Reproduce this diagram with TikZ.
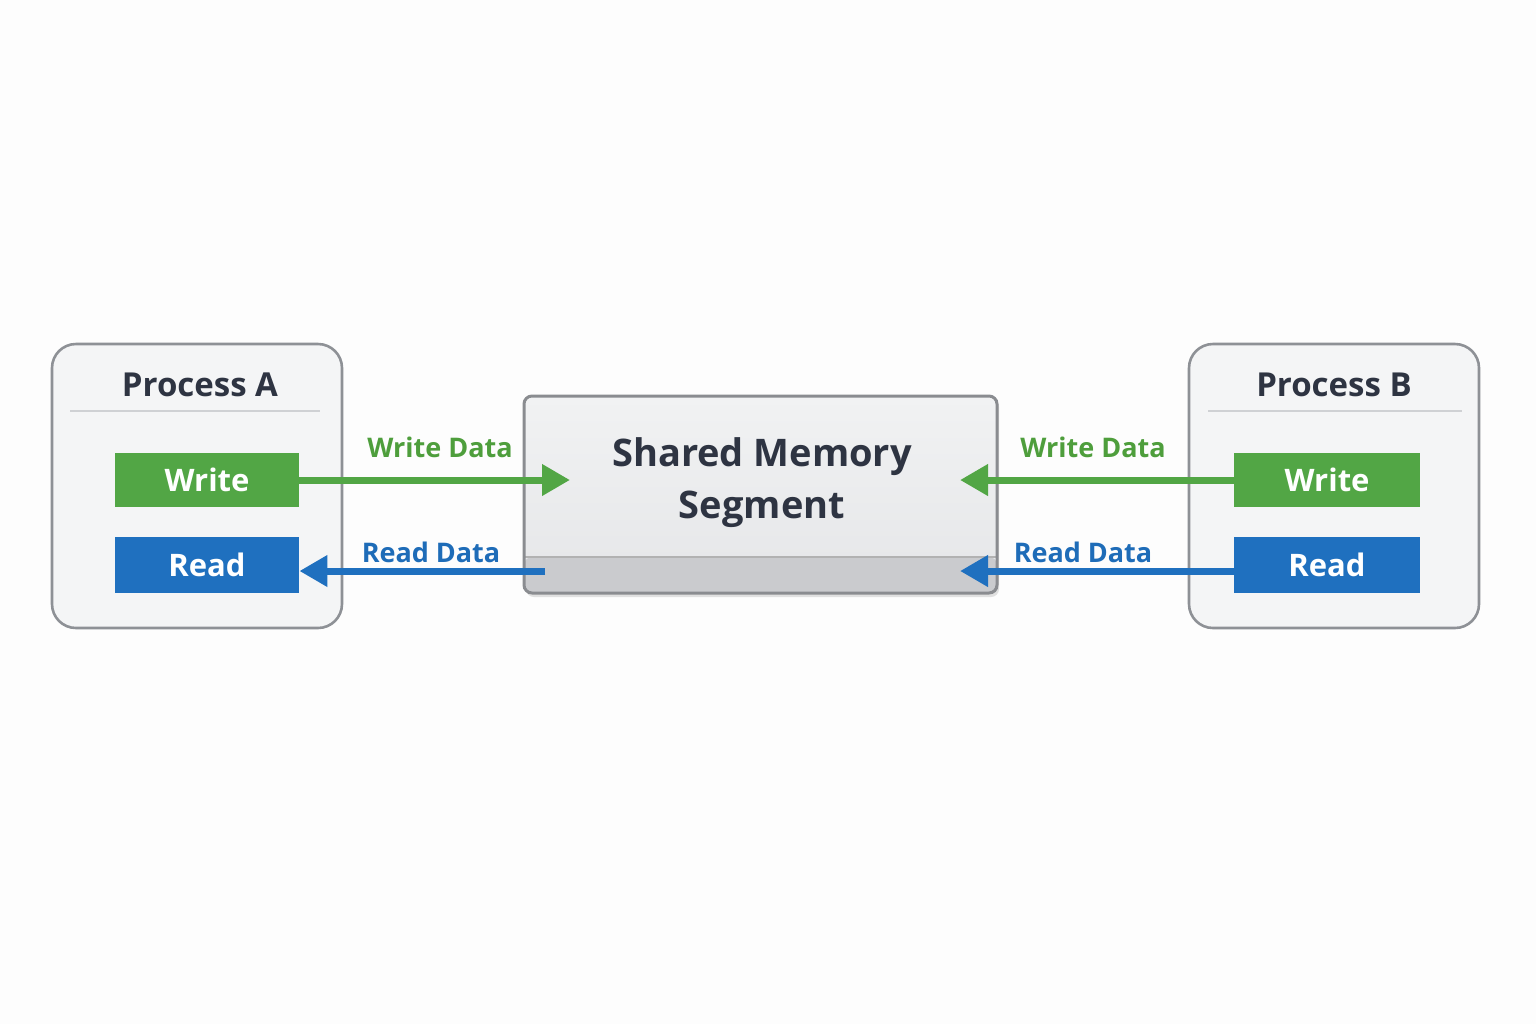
\documentclass[tikz,border=0pt]{standalone}
\usepackage{fontspec}
\setmainfont{Open Sans}
\usetikzlibrary{arrows.meta}
\definecolor{bgc}{HTML}{FDFDFD}
\definecolor{procfill}{HTML}{F4F5F6}
\definecolor{procline}{HTML}{8E9196}
\definecolor{sepline}{HTML}{CFD1D4}
\definecolor{textdark}{HTML}{2E3442}
\definecolor{gbox}{HTML}{52A645}
\definecolor{bbox}{HTML}{1F70BF}
\definecolor{glab}{HTML}{4E9E3C}
\definecolor{blab}{HTML}{1E6CB8}
\definecolor{smtop}{HTML}{F1F2F3}
\definecolor{smbot}{HTML}{E5E6E8}
\definecolor{strip}{HTML}{CACBCE}
\definecolor{smline}{HTML}{8A8C90}
\tikzset{
  procbox/.style={draw=procline, line width=1.3pt, fill=procfill, rounded corners=12pt, minimum width=145pt, minimum height=142pt, inner sep=0pt},
  opbox/.style={minimum width=92pt, inner sep=0pt, text=white, font=\fontsize{15.5}{18}\selectfont\bfseries},
  title/.style={text=textdark, font=\fontsize{16.5}{19}\selectfont\bfseries},
  lab/.style={font=\fontsize{13.5}{16}\selectfont\bfseries},
  garrow/.style={draw=gbox, line width=3.5pt, -{Triangle[length=14pt,width=15pt]}},
  barrow/.style={draw=bbox, line width=3.5pt, -{Triangle[length=14pt,width=15pt]}},
}
\begin{document}
\begin{tikzpicture}[x=0.5pt,y=-0.5pt]
\fill[bgc] (0,0) rectangle (1536,1024);
\useasboundingbox (0,0) rectangle (1536,1024);
% Process A
\node[procbox] (pa) at (197,486) {};
\node[title] (pat) at (200,385) {Process A};
\draw[sepline, line width=1pt] (70,411) -- (320,411);
\node[opbox, fill=gbox, minimum height=27pt] (wa) at (207,480) {Write};
\node[opbox, fill=bbox, minimum height=28pt] (ra) at (207,565) {Read};
% Process B
\node[procbox] (pb) at (1334,486) {};
\node[title] (pbt) at (1334,385) {Process B};
\draw[sepline, line width=1pt] (1208,411) -- (1462,411);
\node[opbox, fill=gbox, minimum height=27pt, minimum width=93pt] (wb) at (1327,480) {Write};
\node[opbox, fill=bbox, minimum height=28pt, minimum width=93pt] (rb) at (1327,565) {Read};
% Shared memory
\fill[black!12, rounded corners=4pt] (526,399) rectangle (999,597);
\node[draw=smline, line width=1.5pt, rounded corners=4pt, top color=smtop, bottom color=smbot,
  minimum width=236.5pt, minimum height=98.5pt, inner sep=0pt,
  path picture={
    \fill[strip] ([yshift=18pt]path picture bounding box.south west) rectangle (path picture bounding box.south east);
    \draw[black!30, line width=0.8pt] ([yshift=18pt]path picture bounding box.south west) -- ([yshift=18pt]path picture bounding box.south east);
  }] (sm) at (760.5,494.5) {};
\node[text=textdark, align=center, font=\fontsize{19}{26}\selectfont\bfseries] (smt) at (762,483) {Shared Memory\\Segment};
% coordinates
\coordinate (ga) at (570,480);
\coordinate (ba) at (545,571);
\coordinate (gb) at (960,480);
\coordinate (bb) at (960,571);
% arrows
\draw[garrow] (wa.east) -- (ga);
\draw[barrow] (ba) -- (ra.east |- ba);
\draw[garrow] (wb.west) -- (gb);
\draw[barrow] (rb.west |- bb) -- (bb);
% labels
\node[lab, text=glab] (lwa) at (440,447) {Write Data};
\node[lab, text=blab] (lra) at (431,552) {Read Data};
\node[lab, text=glab] (lwb) at (1093,447) {Write Data};
\node[lab, text=blab] (lrb) at (1083,552) {Read Data};
\end{tikzpicture}
\end{document}
